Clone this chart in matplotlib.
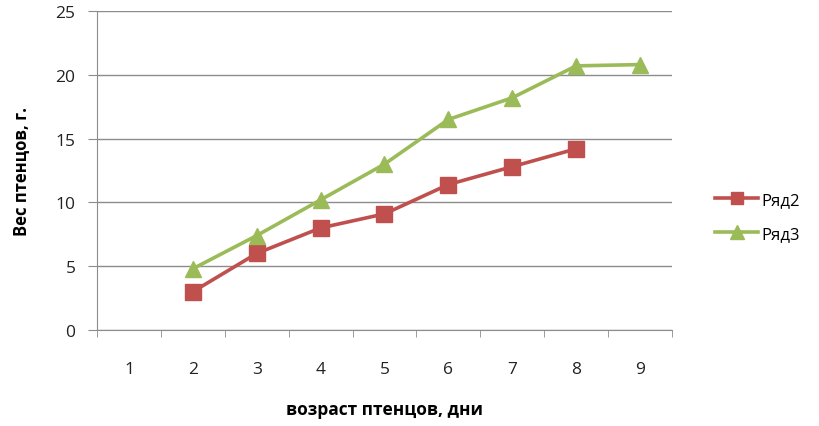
import matplotlib
matplotlib.use("Agg")
import matplotlib.pyplot as plt
import numpy as np

# data
days = [1, 2, 3, 4, 5, 6, 7, 8, 9]
days_r2 = [2, 3, 4, 5, 6, 7, 8]
weight_r2 = [3.0, 6.0, 8.0, 9.1, 11.4, 12.8, 14.2]
days_r3 = [2, 3, 4, 5, 6, 7, 8, 9]
weight_r3 = [4.8, 7.4, 10.2, 13.0, 16.5, 18.2, 20.7, 20.8]
yticks = [0, 5, 10, 15, 20, 25]

plt.rcParams['font.family'] = ['Open Sans', 'DejaVu Sans']

fig = plt.figure(figsize=(8.2, 4.27), dpi=100)
ax = fig.add_axes([97 / 820, 1 - 331 / 427, 575 / 820, 319 / 427])

grid_c = "#8c8c8c"
ax.plot(days_r2, weight_r2, color="#C0504D", lw=2.6, marker="s", ms=11,
        label="Ряд2", zorder=3)
ax.plot(days_r3, weight_r3, color="#9BBB59", lw=2.6, marker="^", ms=12,
        label="Ряд3", zorder=3)

ax.set_xlim(0.5, 9.5)
ax.set_ylim(0, 25)
ax.set_yticks(yticks)
ax.set_xticks(days)
ax.set_xticks(np.arange(0.5, 10, 1.0), minor=True)
ax.tick_params(axis="x", which="major", length=0, pad=22, labelsize=12.5, colors="#222222")
ax.tick_params(axis="x", which="minor", length=5, color=grid_c, direction="out")
ax.tick_params(axis="y", length=6.5, color=grid_c, pad=9, labelsize=12.5, colors="#222222")
ax.grid(axis="y", color=grid_c, lw=1)
ax.set_axisbelow(True)
for s in ["top", "right"]:
    ax.spines[s].set_visible(False)
ax.spines["left"].set_color(grid_c)
ax.spines["bottom"].set_color(grid_c)

ax.set_xlabel("возраст птенцов, дни", fontweight="bold", fontsize=12.5, labelpad=17)
ax.set_ylabel("Вес птенцов, г.", fontweight="bold", fontsize=12, labelpad=18)

fig.legend(loc="center left", bbox_to_anchor=(700 / 820, 1 - 218 / 427),
           frameon=False, fontsize=12, handlelength=2.6, labelspacing=1.1,
           handletextpad=0.2, markerscale=0.85)

fig.savefig("out.png", dpi=100)
